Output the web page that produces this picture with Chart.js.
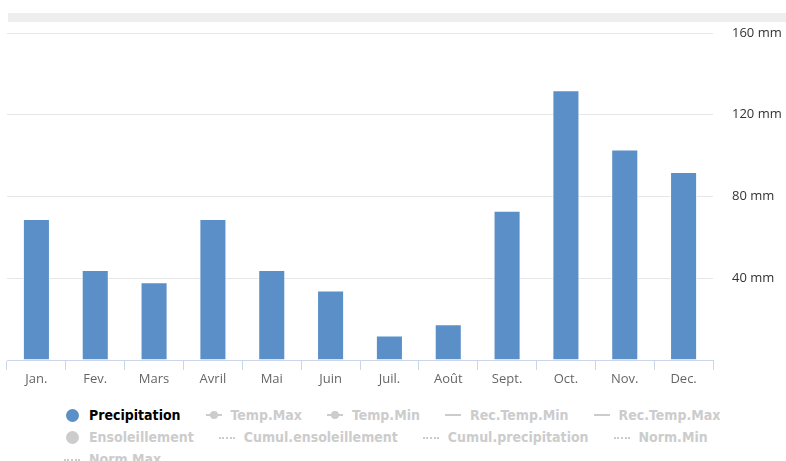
<!DOCTYPE html>
<html lang="fr">
<head>
<meta charset="UTF-8">
<title>Précipitations</title>
<style>
  body { margin: 0; background: #fff; font-family: "Open Sans", "DejaVu Sans", sans-serif; }
  #wrap { position: relative; width: 786px; height: 461px; overflow: hidden; }
  #band { position: absolute; left: 8px; top: 13px; width: 778px; height: 9px; background: #eeeeee; }
  #chart-box { position: absolute; left: 0; top: 0; width: 786px; height: 390px; }
  #legend { position: absolute; left: 64px; top: 404px; width: 700px;
            font-family: "DejaVu Sans Condensed", "DejaVu Sans", sans-serif; font-weight: bold; font-size: 14px;
            color: #cccccc; }
  .row { display: flex; height: 22px; align-items: center; }
  .item { display: flex; align-items: center; margin-right: 25px; white-space: nowrap; }
  .sym { width: 16px; height: 12px; margin-right: 9px; position: relative; }
  .sym.circle::after { content: ""; position: absolute; left: 2px; top: 0; width: 13px; height: 13px; border-radius: 50%; background: currentColor; }
  .sym.line::after { content: ""; position: absolute; left: 0; top: 5px; width: 16px; height: 2px; background: currentColor; }
  .sym.dot::after { content: ""; position: absolute; left: 0; top: 6px; width: 16px; border-top: 2px dotted currentColor; }
  .sym.marker::before { content: ""; position: absolute; left: 4px; top: 2px; width: 8px; height: 8px; border-radius: 50%; background: currentColor; }
  .active { color: #000; }
</style>
</head>
<body>
<div id="wrap">
  <div id="band"></div>
  <div id="chart-box"><canvas id="precipChart"></canvas></div>
  <div id="legend"></div>
</div>

<script src="https://cdn.jsdelivr.net/npm/chart.js"></script>
<script>
  const months = ['Jan.', 'Fev.', 'Mars', 'Avril', 'Mai', 'Juin', 'Juil.', 'Août', 'Sept.', 'Oct.', 'Nov.', 'Dec.'];
  const precipitation = [69, 44, 38, 69, 44, 34, 12, 17.5, 73, 132, 103, 92];
  const yTicks = [0, 40, 80, 120, 160];

  // legend rows: [label, symbol]
  const legendRows = [
    [['Precipitation', 'circle'], ['Temp.Max', 'marker'], ['Temp.Min', 'marker'], ['Rec.Temp.Min', 'line'], ['Rec.Temp.Max', 'line']],
    [['Ensoleillement', 'circle'], ['Cumul.ensoleillement', 'dot'], ['Cumul.precipitation', 'dot'], ['Norm.Min', 'dot']],
    [['Norm Max', 'dot']]
  ];

  const barColor = '#5b8fc8';

  new Chart(document.getElementById('precipChart').getContext('2d'), {
    type: 'bar',
    data: {
      labels: months,
      datasets: [{
        label: 'Precipitation',
        data: precipitation,
        backgroundColor: barColor,
        borderColor: '#ffffff',
        borderWidth: 1,
        categoryPercentage: 1,
        barPercentage: 0.46
      }]
    },
    options: {
      responsive: true,
      maintainAspectRatio: false,
      animation: false,
      layout: { padding: { top: 33, left: 7, right: 0, bottom: 0 } },
      plugins: { legend: { display: false }, tooltip: { enabled: false } },
      scales: {
        x: {
          grid: { drawOnChartArea: false, drawTicks: true, tickLength: 10, color: '#ccd6eb' },
          border: { color: '#ccd6eb' },
          ticks: { color: '#666666', font: { size: 13, family: 'Open Sans' }, padding: 1, maxRotation: 0 },
          afterFit: s => { s.height = 30; }
        },
        y: {
          position: 'right',
          min: 0, max: 160,
          afterBuildTicks: s => { s.ticks = yTicks.map(v => ({ value: v })); },
          grid: { color: '#e6e6e6', drawTicks: false },
          border: { display: false },
          ticks: {
            color: '#333333', font: { size: 13, family: 'Open Sans' }, padding: 19,
            callback: v => v === 0 ? '' : v + ' mm'
          },
          afterFit: s => { s.width = 73; }
        }
      }
    }
  });

  const legend = document.getElementById('legend');
  legendRows.forEach(row => {
    const r = document.createElement('div');
    r.className = 'row';
    row.forEach(([name, sym]) => {
      const it = document.createElement('div');
      it.className = 'item' + (name === 'Precipitation' ? ' active' : '');
      const s = document.createElement('span');
      s.className = 'sym ' + (sym === 'marker' ? 'line marker' : sym);
      if (name === 'Precipitation') s.style.color = barColor;
      const t = document.createElement('span');
      t.textContent = name;
      it.appendChild(s);
      it.appendChild(t);
      r.appendChild(it);
    });
    legend.appendChild(r);
  });
</script>
</body>
</html>
